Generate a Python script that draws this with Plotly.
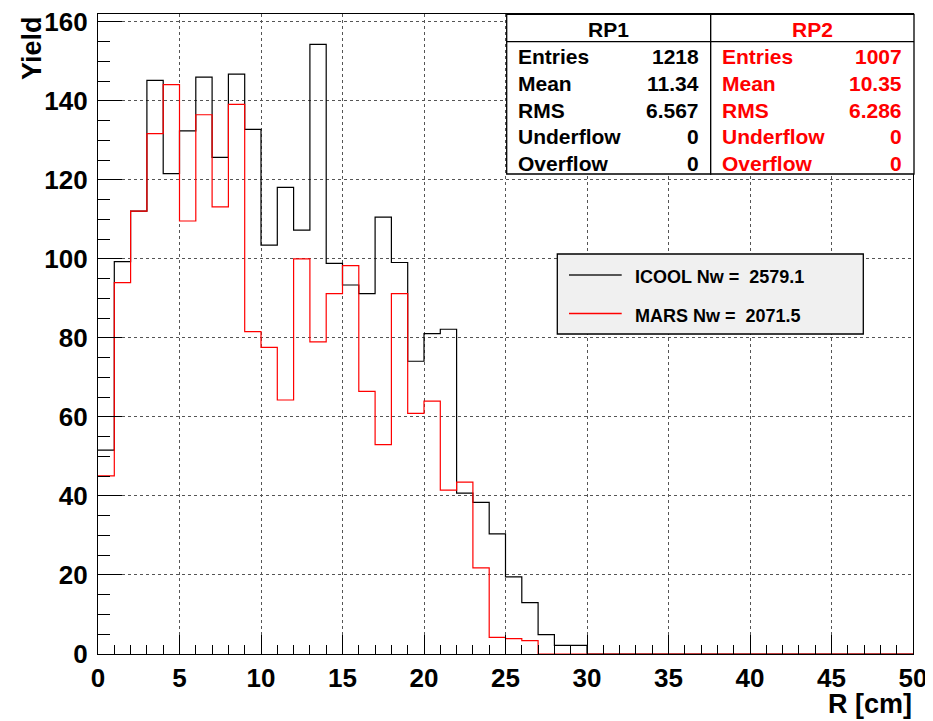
import plotly.graph_objects as go

# ---- data ----
bin_edges = [0, 1, 2, 3, 4, 5, 6, 7, 8, 9, 10, 11, 12, 13, 14, 15, 16, 17, 18, 19,
             20, 21, 22, 23, 24, 25, 26, 27, 28, 29, 30, 31, 32, 33, 34, 35, 36, 37, 38, 39,
             40, 41, 42, 43, 44, 45, 46, 47, 48, 49, 50]

icool = [51.6, 99.3, 112.1, 145.2, 121.6, 132.4, 146.0, 125.7, 146.8, 132.8,
         103.5, 118.1, 107.3, 154.3, 98.9, 93.4, 91.2, 110.6, 99.1, 74.1,
         81.1, 82.2, 40.7, 38.4, 30.4, 19.5, 13.0, 4.9, 2.2, 2.2,
         0, 0, 0, 0, 0, 0, 0, 0, 0, 0,
         0, 0, 0, 0, 0, 0, 0, 0, 0, 0]

mars = [45.1, 94.0, 112.1, 131.7, 144.1, 109.6, 136.5, 113.2, 139.1, 81.6,
        77.6, 64.3, 100.0, 79.0, 91.2, 98.3, 66.5, 53.0, 91.2, 60.9,
        64.0, 41.5, 43.5, 21.8, 4.2, 3.9, 3.4, 0, 0, 0,
        0, 0, 0, 0, 0, 0, 0, 0, 0, 0,
        0, 0, 0, 0, 0, 0, 0, 0, 0, 0]

x_ticks = [0, 5, 10, 15, 20, 25, 30, 35, 40, 45, 50]
y_ticks = [0, 20, 40, 60, 80, 100, 120, 140, 160]

stat_names = ["Entries", "Mean", "RMS", "Underflow", "Overflow"]
rp1_stats = ["1218", "11.34", "6.567", "0", "0"]
rp2_stats = ["1007", "10.35", "6.286", "0", "0"]

legend_labels = ["ICOOL Nw =  2579.1", "MARS Nw =  2071.5"]

# ---- geometry (page pixels; the page body has an 8px margin) ----
OFF = 8
L, R, T, B = 98, 913, 14, 654
W, H = 933 - OFF, 721 - OFF


def X(px):
    return (px - L) / (R - L)


def Y(py):
    return (B - py) / (B - T)


FONT = "Liberation Sans"

fig = go.Figure()
fig.add_trace(go.Scatter(x=bin_edges, y=icool + [icool[-1]], mode="lines",
                         line=dict(color="black", width=1.2, shape="hv"),
                         name="ICOOL", showlegend=False))
fig.add_trace(go.Scatter(x=bin_edges, y=mars + [mars[-1]], mode="lines",
                         line=dict(color="#ff0000", width=1.2, shape="hv"),
                         name="MARS", showlegend=False))

shapes = []
annotations = []

# ---- stat boxes ----
box_top, box_bot, hdr_bot = 14.3, 174, 41.7
boxes = [(506.7, 710.7, "RP1", rp1_stats, "black"),
         (710.7, 914, "RP2", rp2_stats, "#ff0000")]
row_y = [56.7, 83.3, 110, 136.7, 163.3]
for x0, x1, title, vals, col in boxes:
    shapes.append(dict(type="rect", xref="paper", yref="paper",
                       x0=X(x0), x1=X(x1), y0=Y(box_bot), y1=Y(box_top),
                       line=dict(color="black", width=1.3), fillcolor="white",
                       layer="above"))
    shapes.append(dict(type="line", xref="paper", yref="paper",
                       x0=X(x0), x1=X(x1), y0=Y(hdr_bot), y1=Y(hdr_bot),
                       line=dict(color="black", width=1.3)))
    annotations.append(dict(xref="paper", yref="paper", x=X((x0 + x1) / 2), y=Y(29),
                            text=title, showarrow=False, xanchor="center", yanchor="middle",
                            font=dict(family=FONT, size=21, color=col, weight="bold")))
    for name, val, ry in zip(stat_names, vals, row_y):
        annotations.append(dict(xref="paper", yref="paper", x=X(x0 + 9), y=Y(ry),
                                text=name, showarrow=False, xanchor="left", yanchor="middle",
                                font=dict(family=FONT, size=21, color=col, weight="bold")))
        annotations.append(dict(xref="paper", yref="paper", x=X(x1 - 10), y=Y(ry),
                                text=val, showarrow=False, xanchor="right", yanchor="middle",
                                font=dict(family=FONT, size=21, color=col, weight="bold")))

# ---- legend box ----
shapes.append(dict(type="rect", xref="paper", yref="paper",
                   x0=X(557.3), x1=X(863.3), y0=Y(334), y1=Y(254),
                   line=dict(color="black", width=1.3), fillcolor="#f0f0f0",
                   layer="above"))
leg_cols = ["#222222", "#ff0000"]
leg_y = [277, 315.5]
for lab, col, ly in zip(legend_labels, leg_cols, leg_y):
    shapes.append(dict(type="line", xref="paper", yref="paper",
                       x0=X(569), x1=X(621.7), y0=Y(ly - 2), y1=Y(ly - 2),
                       line=dict(color=col, width=1.4), layer="above"))
    annotations.append(dict(xref="paper", yref="paper", x=X(633), y=Y(ly),
                            text=lab, showarrow=False, xanchor="left", yanchor="middle",
                            font=dict(family=FONT, size=18, color="black", weight="bold")))

# ---- axis titles ----
annotations.append(dict(xref="paper", yref="paper", x=X(914), y=Y(687),
                        text="R [cm]", showarrow=False, xanchor="right", yanchor="top",
                        font=dict(family=FONT, size=27, color="black", weight="bold")))
annotations.append(dict(xref="paper", yref="paper", x=X(15), y=Y(14),
                        text="Yield", showarrow=False, xanchor="left", yanchor="top",
                        textangle=-90,
                        font=dict(family=FONT, size=27, color="black", weight="bold")))

axis_common = dict(showline=True, linecolor="black", linewidth=1.3, mirror=True,
                   ticks="inside", tickcolor="black", tickwidth=1.3,
                   showgrid=True, gridcolor="#555555", griddash="dot", gridwidth=1,
                   zeroline=False, automargin=False, ticklabeloverflow="allow",
                   tickfont=dict(family=FONT, size=26, color="black", weight="bold"))

fig.update_layout(
    width=W, height=H,
    margin=dict(l=L - OFF, r=933 - R, t=T - OFF, b=721 - B),
    plot_bgcolor="white", paper_bgcolor="white",
    showlegend=False,
    shapes=shapes, annotations=annotations,
    xaxis=dict(range=[0, 50], tickvals=x_ticks, ticklen=19,
               minor=dict(ticks="inside", ticklen=9, dtick=1, tickcolor="black",
                          tickwidth=1.3, showgrid=False),
               ticklabelstandoff=1, **axis_common),
    yaxis=dict(range=[0, 162], tickvals=y_ticks, ticklen=24,
               minor=dict(ticks="inside", ticklen=12, dtick=5, tickcolor="black",
                          tickwidth=1.3, showgrid=False),
               ticklabelstandoff=4, **axis_common),
)

fig.write_html("out.html")
